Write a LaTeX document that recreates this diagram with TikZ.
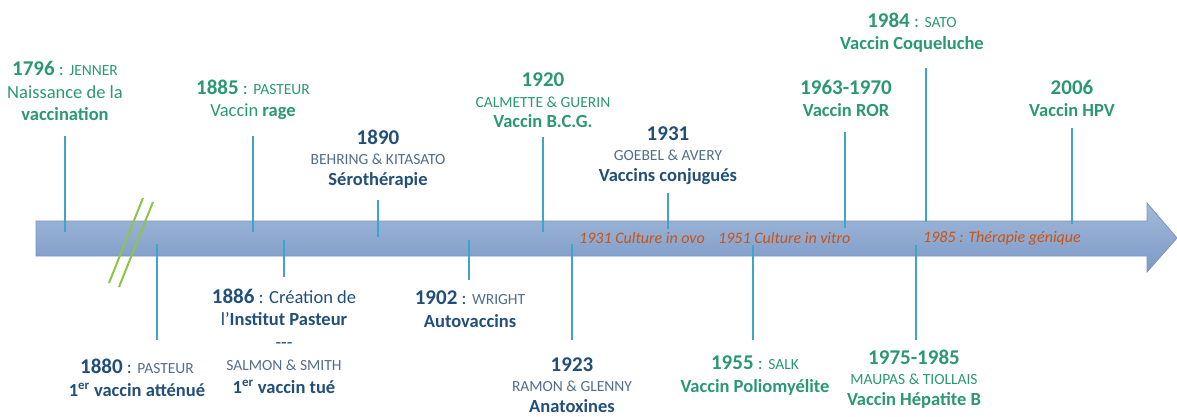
\documentclass[tikz,border=0pt]{standalone}
\usepackage{fontspec}
\usepackage{xcolor}
\setmainfont{Carlito}

\definecolor{vgreen}{RGB}{42,152,116}
\definecolor{vblue}{RGB}{34,78,122}
\definecolor{vgray}{RGB}{82,110,140}
\definecolor{vorange}{RGB}{200,84,22}
\definecolor{vtick}{RGB}{60,166,200}
\definecolor{vslash}{RGB}{140,198,72}
\definecolor{arrtop}{RGB}{162,184,218}
\definecolor{arrbot}{RGB}{124,154,198}
\definecolor{arrline}{RGB}{120,148,192}
\colorlet{namecol}{vgray}

\newcommand{\yr}[1]{{\fontsize{21}{22}\selectfont\bfseries #1}}
\newcommand{\nm}[1]{{\fontsize{15.5}{20}\selectfont\color{namecol}#1}}

\begin{document}
\begin{tikzpicture}[
      x=1pt, y=-1pt,
      event/.style={align=center, anchor=base, inner sep=0pt,
        font=\fontsize{18.5}{22.5}\selectfont},
      tight/.style={font=\fontsize{18.5}{20.5}\selectfont},
      green event/.style={event, text=vgreen,
        execute at begin node={\colorlet{namecol}{vgreen}}},
      blue event/.style={event, text=vblue},
      tick/.style={draw=vtick, line width=1.6pt},
      slash/.style={draw=vslash, line width=2pt},
      culture/.style={anchor=base west, inner sep=0pt, text=vorange,
        font=\fontsize{16}{18}\selectfont\itshape}
    ]
    \useasboundingbox (0,0) rectangle (1177,417);

    % the time arrow
    \path[draw=arrline, line width=0.8pt, top color=arrtop, bottom color=arrbot]
      (36,221) -- (1147,221) -- (1147,203) -- (1177,238) -- (1147,272)
      -- (1147,256) -- (36,256) -- cycle;

    % break in the scale
    \draw[slash] (143,198) -- (109,283);
    \draw[slash] (153,202) -- (119,287);

    % ticks
    \foreach \n/\x/\a/\b in {1796/65/136/232, 1885/253/136/232, 1890/378/200/237,
        1920/543/137/232, 1931/668/193/229, 1963/845/132/228, 1984/926/68/222,
        2006/1072/128/224, 1880/157/244/340, 1886/284/240/277, 1902/469/240/280,
        1923/572/244/340, 1955/753/245/340, 1975/916/245/340} {
      \coordinate (top\n) at (\x,\a);
      \coordinate (bot\n) at (\x,\b);
      \draw[tick] (top\n) -- (bot\n);
    }

    % events above
    \node[green event] (jenner) at (65,121)
      {\yr{1796} : \nm{JENNER}\\Naissance de la\\\textbf{vaccination}};
    \node[green event] (rage) at (253,117)
      {\yr{1885} : \nm{PASTEUR}\\Vaccin \textbf{rage}};
    \node[blue event, tight] (sero) at (378,185)
      {\yr{1890}\\\nm{BEHRING \& KITASATO}\\\textbf{Sérothérapie}};
    \node[green event, tight] (bcg) at (543,128)
      {\yr{1920}\\\nm{CALMETTE \& GUERIN}\\\textbf{Vaccin B.C.G.}};
    \node[blue event, tight] (conj) at (668,181)
      {\yr{1931}\\\nm{GOEBEL \& AVERY}\\\textbf{Vaccins conjugués}};
    \node[green event] (ror) at (846,117)
      {\yr{1963-1970}\\\textbf{Vaccin ROR}};
    \node[green event] (coq) at (912,50)
      {\yr{1984} : \nm{SATO}\\\textbf{Vaccin Coqueluche}};
    \node[green event] (hpv) at (1072,117)
      {\yr{2006}\\\textbf{Vaccin HPV}};

    % events below
    \node[blue event] (attenue) at (137,396)
      {\yr{1880} : \nm{PASTEUR}\\\textbf{1\textsuperscript{er} vaccin atténué}};
    \node[blue event] (institut) at (284,393)
      {\yr{1886} : Création de\\l’\textbf{Institut Pasteur}\\-{}-{}-\\
       \nm{SALMON \& SMITH}\\\textbf{1\textsuperscript{er} vaccin tué}};
    \node[blue event] (wright) at (470,327)
      {\yr{1902} : \nm{WRIGHT}\\\textbf{Autovaccins}};
    \node[blue event, tight] (anatox) at (572,412)
      {\yr{1923}\\\nm{RAMON \& GLENNY}\\\textbf{Anatoxines}};
    \node[green event] (polio) at (755,392)
      {\yr{1955} : \nm{SALK}\\\textbf{Vaccin Poliomyélite}};
    \node[green event, tight] (hepb) at (914,405)
      {\yr{1975-1985}\\\nm{MAUPAS \& TIOLLAIS}\\\textbf{Vaccin Hépatite B}};

    % techniques on the arrow
    \node[culture] (ovo) at (579,243) {1931 Culture in ovo};
    \node[culture] (vitro) at (718,243) {1951 Culture in vitro};
    \node[culture] (gene) at (923,242) {1985 : Thérapie génique};
    \end{tikzpicture}
\end{document}
